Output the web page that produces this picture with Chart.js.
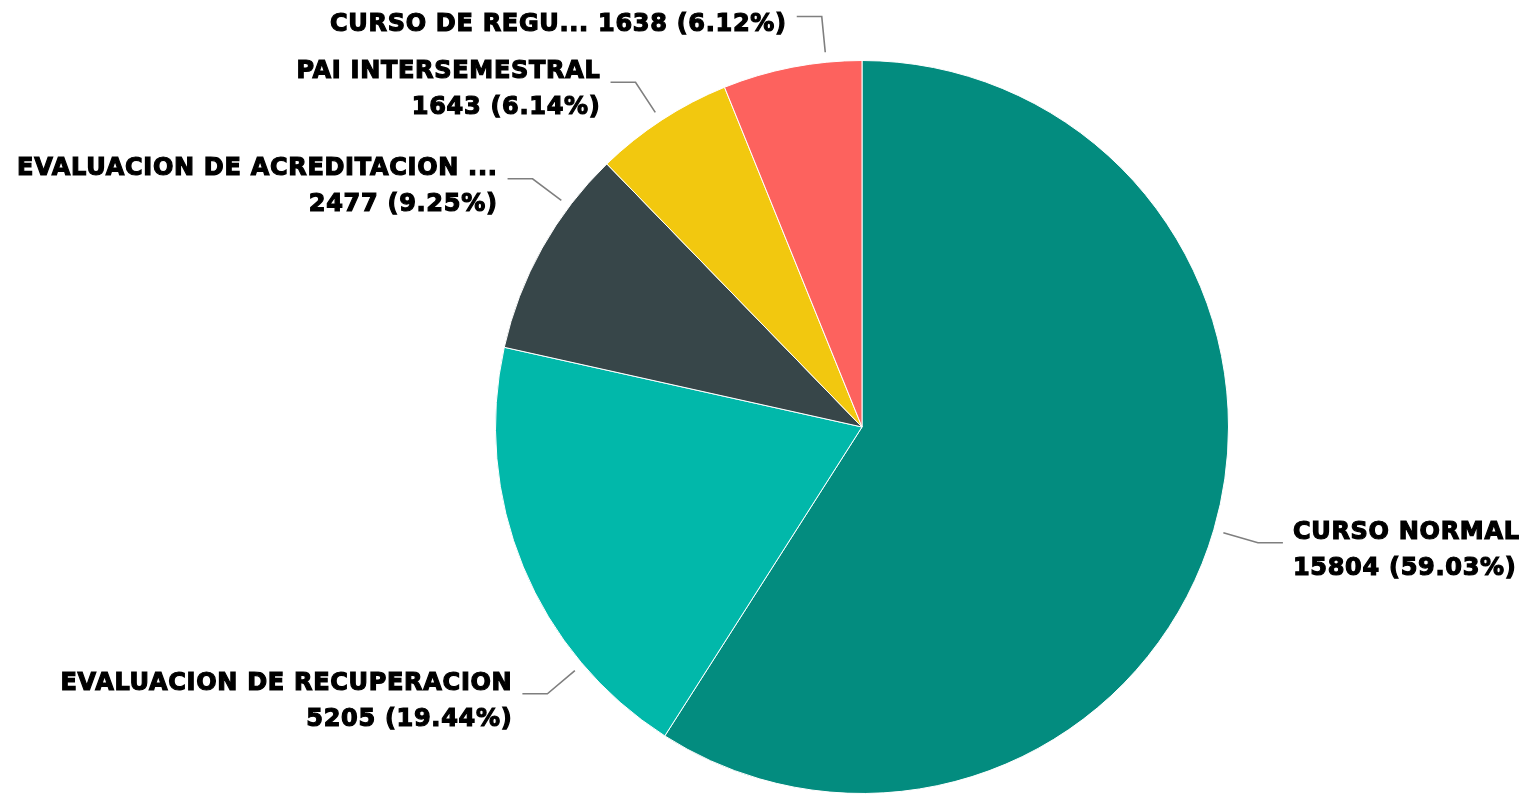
<!DOCTYPE html>
<html>
<head>
<meta charset="utf-8">
<script src="https://cdn.jsdelivr.net/npm/chart.js@4"></script>
<style>
  html, body { margin: 0; padding: 0; background: #ffffff; }
  #wrap { width: 1522px; height: 796px; }
</style>
</head>
<body>
<div id="wrap"><canvas id="pieChart"></canvas></div>
<script>
// chart data
const categories = ['CURSO NORMAL', 'EVALUACION DE RECUPERACION', 'EVALUACION DE ACREDITACION ...', 'PAI INTERSEMESTRAL', 'CURSO DE REGU...'];
const counts = [15804, 5205, 2477, 1643, 1638];
const shares = ['59.03%', '19.44%', '9.25%', '6.14%', '6.12%'];
const sliceColors = ['#038C7F', '#01B8AA', '#374649', '#F2C80F', '#FD625E'];

// leader lines + two line labels, like the Power BI outside labels
const outsideLabels = {
  id: 'outsideLabels',
  afterDatasetsDraw(chart, args, opts) {
    const ctx = chart.ctx;
    const arcs = chart.getDatasetMeta(0).data;
    ctx.save();
    ctx.font = 'bold 24px "DejaVu Sans"';
    ctx.letterSpacing = '0.7px';
    arcs.forEach((arc, i) => {
      const r = arc.outerRadius;
      const a = (opts.angles[i] - 90) * Math.PI / 180;
      const cos = Math.cos(a), sin = Math.sin(a);
      const x0 = arc.x + cos * (r + 10), y0 = arc.y + sin * (r + 10);
      const x1 = arc.x + cos * (r + 46), y1 = arc.y + sin * (r + 46);
      const right = cos >= 0;
      const x2 = x1 + (right ? 25 : -25);

      ctx.strokeStyle = '#7f7f7f';
      ctx.lineWidth = 1.6;
      ctx.beginPath();
      ctx.moveTo(x0, y0);
      ctx.lineTo(x1, y1);
      ctx.lineTo(x2, y1);
      ctx.stroke();

      const valueText = counts[i] + ' (' + shares[i] + ')';
      const lines = opts.inline.includes(i)
        ? [categories[i] + ' ' + valueText]
        : [categories[i], valueText];
      const tx = x2 + (right ? 10 : -10);
      let ty = opts.inline.includes(i) ? y1 + 15 : y1 - 4;
      ctx.textAlign = right ? 'left' : 'right';
      ctx.textBaseline = 'alphabetic';
      ctx.fillStyle = '#000000';
      ctx.strokeStyle = '#000000';
      ctx.lineWidth = 1.2;
      lines.forEach((line) => {
        ctx.fillText(line, tx, ty);
        ctx.strokeText(line, tx, ty);
        ty += 36;
      });
    });
    ctx.restore();
  }
};

document.addEventListener('DOMContentLoaded', () => {
  const ctx = document.getElementById('pieChart').getContext('2d');
  new Chart(ctx, {
    type: 'pie',
    data: {
      labels: categories,
      datasets: [{
        data: counts,
        backgroundColor: sliceColors,
        borderColor: '#ffffff',
        borderWidth: 1,
      }],
    },
    options: {
      responsive: true,
      maintainAspectRatio: false,
      animation: false,
      layout: {
        padding: { top: 60, bottom: 2, left: 495, right: 293 },
      },
      plugins: {
        legend: { display: false },
        tooltip: { enabled: false },
        outsideLabels: {
          // direction of each leader line, degrees clockwise from 12 o'clock
          angles: [106.3, 229.7, 307, 326.7, 354.4],
          inline: [4],
        },
      },
    },
    plugins: [outsideLabels],
  });
});
</script>
</body>
</html>
